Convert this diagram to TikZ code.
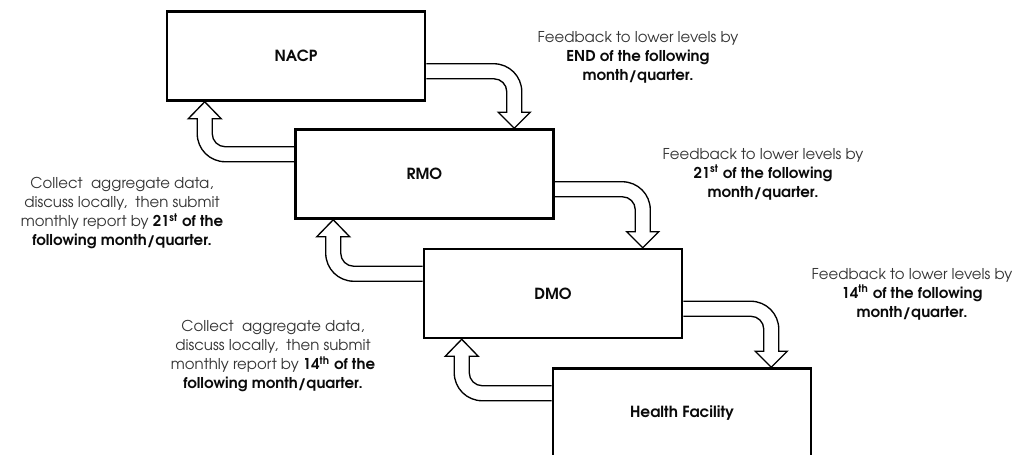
\documentclass[tikz,border=0pt]{standalone}
\usepackage{fontspec}
\setmainfont{texgyreadventor}[Extension=.otf, UprightFont=*-regular, BoldFont=*-bold]
\usetikzlibrary{calc}
\definecolor{bodytext}{HTML}{333333}
\definecolor{strongtext}{HTML}{0A0A0A}
\newcommand\pxu{0.75pt}
% bent block arrow from the right side of #1 down onto the top of #2
\newcommand\feedbackarrow[2]{%
  \draw[blockarrow] let \p1=(#1.north east), \p2=(#2.north) in
    (\x1, \y1-53.5*\pxu)
    -- (\x1+67.5*\pxu, \y1-53.5*\pxu)
    .. controls (\x1+83*\pxu, \y1-53.5*\pxu) and (\x1+95.5*\pxu, \y1-66*\pxu) ..
    (\x1+95.5*\pxu, \y1-81.5*\pxu)
    -- (\x1+95.5*\pxu, \y2+16*\pxu)
    -- (\x1+104*\pxu, \y2+16*\pxu)
    -- (\x1+88*\pxu, \y2)
    -- (\x1+72*\pxu, \y2+16*\pxu)
    -- (\x1+80.5*\pxu, \y2+16*\pxu)
    -- (\x1+80.5*\pxu, \y1-81.5*\pxu)
    .. controls (\x1+80.5*\pxu, \y1-74.3*\pxu) and (\x1+74.7*\pxu, \y1-68.5*\pxu) ..
    (\x1+67.5*\pxu, \y1-68.5*\pxu)
    -- (\x1, \y1-68.5*\pxu);}
% bent block arrow from the left side of #1 up onto the bottom of #2
\newcommand\reportarrow[2]{%
  \draw[blockarrow] let \p1=(#1.north west), \p2=(#2.south west) in
    (\x1, \y1-18.5*\pxu)
    -- (\x2+59.5*\pxu, \y1-18.5*\pxu)
    .. controls (\x2+52.3*\pxu, \y1-18.5*\pxu) and (\x2+46.5*\pxu, \y1-12.7*\pxu) ..
    (\x2+46.5*\pxu, \y1-5.5*\pxu)
    -- (\x2+46.5*\pxu, \y2-17*\pxu)
    -- (\x2+55.5*\pxu, \y2-17*\pxu)
    -- (\x2+39*\pxu, \y2)
    -- (\x2+22.5*\pxu, \y2-17*\pxu)
    -- (\x2+31.5*\pxu, \y2-17*\pxu)
    -- (\x2+31.5*\pxu, \y1-5.5*\pxu)
    .. controls (\x2+31.5*\pxu, \y1-21*\pxu) and (\x2+44*\pxu, \y1-33.5*\pxu) ..
    (\x2+59.5*\pxu, \y1-33.5*\pxu)
    -- (\x1, \y1-33.5*\pxu);}
\begin{document}
\begin{tikzpicture}[x=0.75pt, y=-0.75pt,
  level/.style={draw=black, fill=white, line width=1.9pt, minimum width=193.5pt,
    minimum height=66.75pt, inner sep=0pt, font=\fontsize{11.5}{14}\selectfont\bfseries,
    text=strongtext},
  blockarrow/.style={draw=black, fill=white, line width=1pt, line join=miter},
  note/.style={align=center, inner sep=0pt, text=bodytext,
    font=\fontsize{11.2}{14.25}\selectfont}]
\useasboundingbox (0,0) rectangle (1019,454);

% reporting levels
\path (296,56)    coordinate (pnacp);
\path (424.5,174) coordinate (prmo);
\path (553,293.5) coordinate (pdmo);
\path (682,413)   coordinate (phf);

\node[level] (nacp) at (pnacp) {};
\node[level] (rmo)  at (prmo)  {};
\node[level] (dmo)  at (pdmo)  {};
\node[level] (hf)   at (phf)   {};

% arrows between levels
\feedbackarrow{nacp}{rmo}
\feedbackarrow{rmo}{dmo}
\feedbackarrow{dmo}{hf}
\reportarrow{rmo}{nacp}
\reportarrow{dmo}{rmo}
\reportarrow{hf}{dmo}

% redraw boxes on top with their labels
\node[level] at (pnacp) {NACP};
\node[level] at (prmo)  {RMO};
\node[level] at (pdmo)  {DMO};
\node[level] at (phf)   {Health Facility};

% notes
\node[note] (fb1) at (638,57) {Feedback to lower levels by\\
  \textcolor{strongtext}{\bfseries END of the following}\\
  \textcolor{strongtext}{\bfseries month/quarter.}};
\node[note] (fb2) at (763,174) {Feedback to lower levels by\\
  \textcolor{strongtext}{\bfseries 21\textsuperscript{st} of the following}\\
  \textcolor{strongtext}{\bfseries month/quarter.}};
\node[note] (fb3) at (912,294) {Feedback to lower levels by\\
  \textcolor{strongtext}{\bfseries 14\textsuperscript{th} of the following}\\
  \textcolor{strongtext}{\bfseries month/quarter.}};
\node[note] (col1) at (122,213.5) {Collect\ \ aggregate data,\\
  discuss locally,\ \ then submit\\
  monthly report by \textcolor{strongtext}{\bfseries 21\textsuperscript{st} of the}\\
  \textcolor{strongtext}{\bfseries following month/quarter.}};
\node[note] (col2) at (273,356.5) {Collect\ \ aggregate data,\\
  discuss locally,\ \ then submit\\
  monthly report by \textcolor{strongtext}{\bfseries 14\textsuperscript{th} of the}\\
  \textcolor{strongtext}{\bfseries following month/quarter.}};
\end{tikzpicture}
\end{document}
